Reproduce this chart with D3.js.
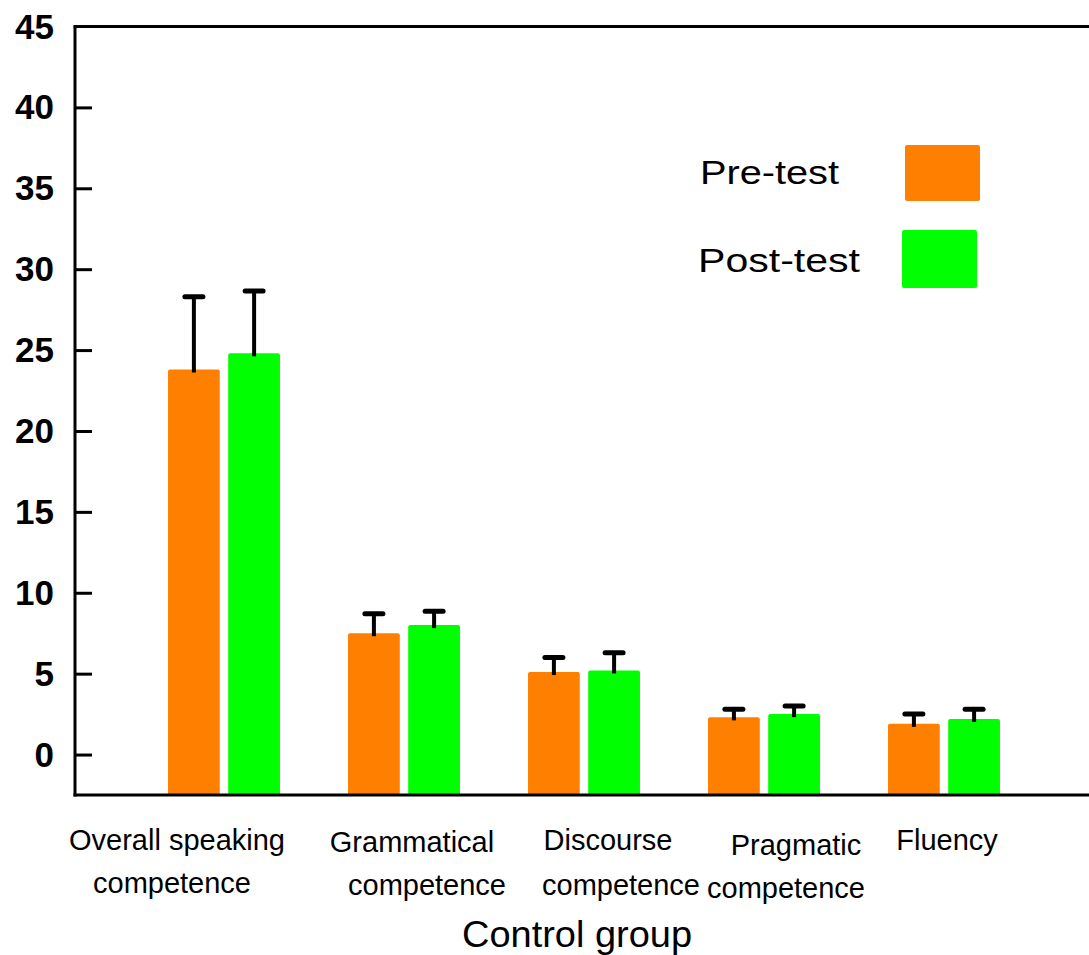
<!DOCTYPE html>
<html>
<head>
<meta charset="utf-8">
<script src="https://cdn.jsdelivr.net/npm/d3@7"></script>
<style>
  html, body { margin: 0; padding: 0; background: #fff; }
  svg { display: block; font-family: "Liberation Sans", Arial, sans-serif; }
</style>
</head>
<body>
<svg id="chart" width="1089" height="955"></svg>
<script>
// ---- data ----
const categories = ["Overall speaking competence", "Grammatical competence", "Discourse competence", "Pragmatic competence", "Fluency"];
const categoryLines = [["Overall speaking", "competence"], ["Grammatical", "competence"], ["Discourse", "competence"], ["Pragmatic", "competence"], ["Fluency"]];
const seriesNames = ["Pre-test", "Post-test"];
const preTest = [23.8, 7.5, 5.1, 2.3, 1.9];
const preTestSD = [4.5, 1.2, 0.9, 0.5, 0.6];
const postTest = [24.8, 8.0, 5.2, 2.5, 2.2];
const postTestSD = [3.85, 0.85, 1.1, 0.5, 0.6];
const yTicks = [0, 5, 10, 15, 20, 25, 30, 35, 40, 45];
const xTitle = "Control group";

// ---- layout / style ----
const colors = ["#ff8000", "#00ff00"];
const labelDx = [[-47, -52], [8, 23], [24, 37], [32, 22], [3]];
const labelBaseline = [[850, 893], [852, 895], [850, 895], [855, 898], [850]];

const svg = d3.select("#chart");
const pLeft = 75, pRight = 1089, pTop = 26.5, pBottom = 795;

const y = d3.scaleLinear().domain([-2.5, 45]).range([pBottom, pTop]);
const x0 = d3.scaleBand().domain(categories).range([134, 1034]).paddingInner(0.378).paddingOuter(0.189);
const x1 = d3.scaleBand().domain(seriesNames).range([0, x0.bandwidth()]).paddingInner(0.14);

const rows = categories.map((c, i) => ({
  cat: c,
  vals: [
    { s: seriesNames[0], v: preTest[i], e: preTestSD[i] },
    { s: seriesNames[1], v: postTest[i], e: postTestSD[i] }
  ]
}));

// bars
const g = svg.append("g");
const groups = g.selectAll("g.grp").data(rows).join("g")
  .attr("transform", d => `translate(${x0(d.cat)},0)`);
groups.selectAll("rect").data(d => d.vals).join("rect")
  .attr("x", d => x1(d.s))
  .attr("y", d => y(d.v))
  .attr("width", x1.bandwidth())
  .attr("height", d => pBottom - y(d.v))
  .attr("rx", 2)
  .attr("fill", (d, i) => colors[i]);

// error bars (upper only)
groups.selectAll("line.err").data(d => d.vals).join("line")
  .attr("class", "err")
  .attr("x1", d => x1(d.s) + x1.bandwidth() / 2)
  .attr("x2", d => x1(d.s) + x1.bandwidth() / 2)
  .attr("y1", d => y(d.v) + 3)
  .attr("y2", d => y(d.v + d.e))
  .attr("stroke", "#000").attr("stroke-width", 4);
groups.selectAll("line.cap").data(d => d.vals).join("line")
  .attr("class", "cap")
  .attr("x1", d => x1(d.s) + x1.bandwidth() / 2 - 9)
  .attr("x2", d => x1(d.s) + x1.bandwidth() / 2 + 9)
  .attr("y1", d => y(d.v + d.e))
  .attr("y2", d => y(d.v + d.e))
  .attr("stroke", "#000").attr("stroke-width", 5).attr("stroke-linecap", "round");

// y axis (ticks inward)
const yAxis = d3.axisRight(y).tickValues(yTicks.filter(t => t < 45)).tickSize(17).tickFormat("");
const ya = svg.append("g").attr("transform", `translate(${pLeft},0)`).call(yAxis);
ya.select(".domain").remove();
ya.selectAll(".tick line").attr("stroke", "#000").attr("stroke-width", 3);
svg.selectAll("text.ytl").data(yTicks).join("text")
  .attr("class", "ytl")
  .attr("x", 54)
  .attr("y", d => y(d) + 12)
  .attr("text-anchor", "end")
  .attr("font-size", 35).attr("font-weight", "bold")
  .attr("fill", "#000")
  .text(d => d);

// frame lines
svg.append("line").attr("x1", pLeft).attr("x2", pLeft).attr("y1", pTop).attr("y2", pBottom + 1.5)
  .attr("stroke", "#000").attr("stroke-width", 3);
svg.append("line").attr("x1", pLeft - 1.5).attr("x2", pRight).attr("y1", pTop).attr("y2", pTop)
  .attr("stroke", "#000").attr("stroke-width", 3);
svg.append("line").attr("x1", pLeft - 1.5).attr("x2", pRight).attr("y1", pBottom).attr("y2", pBottom)
  .attr("stroke", "#000").attr("stroke-width", 3);

// category labels
categories.forEach((c, i) => {
  const cx = x0(c) + x0.bandwidth() / 2;
  categoryLines[i].forEach((ln, j) => {
    svg.append("text")
      .attr("x", cx + labelDx[i][j])
      .attr("y", labelBaseline[i][j])
      .attr("text-anchor", "middle")
      .attr("font-size", 29)
      .attr("fill", "#000")
      .text(ln);
  });
});

// x title
svg.append("text")
  .attr("x", 462).attr("y", 947)
  .attr("font-size", 36)
  .attr("textLength", 230).attr("lengthAdjust", "spacingAndGlyphs")
  .attr("fill", "#000")
  .text(xTitle);

// legend
const legendText = [{ x: 700, y: 184, w: 139 }, { x: 698, y: 272, w: 162 }];
const legendBox = [{ x: 905, y: 145, w: 75, h: 56 }, { x: 902, y: 230, w: 75, h: 58 }];
seriesNames.forEach((s, i) => {
  svg.append("text")
    .attr("x", legendText[i].x).attr("y", legendText[i].y)
    .attr("font-size", 34)
    .attr("textLength", legendText[i].w).attr("lengthAdjust", "spacingAndGlyphs")
    .attr("fill", "#000")
    .text(s);
  svg.append("rect")
    .attr("x", legendBox[i].x).attr("y", legendBox[i].y)
    .attr("width", legendBox[i].w).attr("height", legendBox[i].h)
    .attr("rx", 2)
    .attr("fill", colors[i]);
});
</script>
</body>
</html>
